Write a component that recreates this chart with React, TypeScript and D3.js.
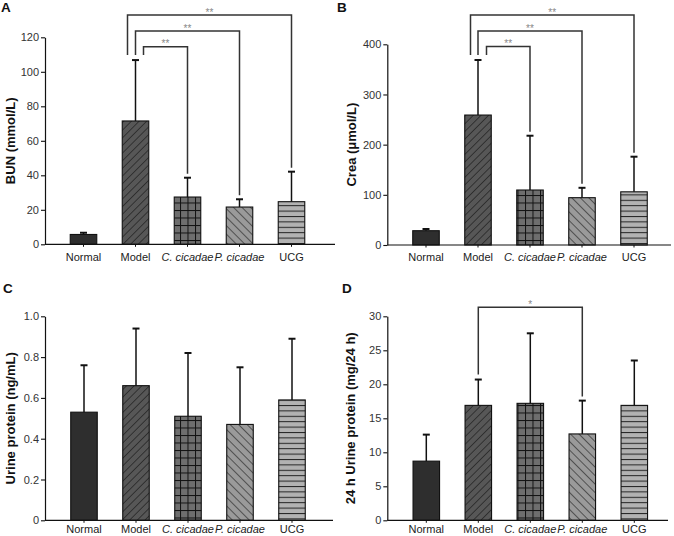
import React, { useEffect, useRef } from 'react';
import * as d3 from 'd3';

const groups = ['Normal', 'Model', 'C. cicadae', 'P. cicadae', 'UCG'];
const italicGroups = ['C. cicadae', 'P. cicadae'];

// mean and SD per group
const bunMean = [5.7, 71.5, 27.4, 21.6, 24.7];
const bunSd = [1.0, 35.3, 11.2, 4.5, 17.4];
const creaMean = [28.5, 259, 109.6, 94.3, 106];
const creaSd = [3.4, 109.7, 108.2, 19.7, 70];
const urineMean = [0.53, 0.66, 0.51, 0.47, 0.59];
const urineSd = [0.23, 0.28, 0.31, 0.28, 0.3];
const urine24Mean = [8.7, 16.9, 17.2, 12.7, 16.9];
const urine24Sd = [3.9, 3.8, 10.3, 4.9, 6.6];

const bunTicks = [0, 20, 40, 60, 80, 100, 120];
const creaTicks = [0, 100, 200, 300, 400];
const urineTicks = [0, 0.2, 0.4, 0.6, 0.8, 1.0];
const urine24Ticks = [0, 5, 10, 15, 20, 25, 30];

const bunSig = [
    { from: 'Model', to: 'UCG', label: '**' },
    { from: 'Model', to: 'P. cicadae', label: '**' },
    { from: 'Model', to: 'C. cicadae', label: '**' },
];
const creaSig = [
    { from: 'Model', to: 'UCG', label: '**' },
    { from: 'Model', to: 'P. cicadae', label: '**' },
    { from: 'Model', to: 'C. cicadae', label: '**' },
];
const urineSig: { from: string; to: string; label: string }[] = [];
const urine24Sig = [{ from: 'Model', to: 'P. cicadae', label: '*' }];

const baseColors = ['#2e2e2e', '#575757', '#6e6e6e', '#9a9a9a', '#b2b2b2'];
const patternIds = [null, 'pat-up', 'pat-grid', 'pat-down', 'pat-horiz'];

const FONT = '"Liberation Sans", Arial, Helvetica, sans-serif';

const panels = [
    {
        letter: 'A', letterX: 1, letterY: 12,
        yLabel: 'BUN (mmol/L)', yLabelX: 14.5,
        means: bunMean, sds: bunSd, ticks: bunTicks, fmt: d3.format('d'),
        axisX: 45, axisRight: 335, y0: 244.3, yTop: 37.3, c0: 83.5,
        xLabelDy: 16.3, sig: bunSig, sigY: [15, 31, 46.7], legOff: [-8, 0, 8],
    },
    {
        letter: 'B', letterX: 337, letterY: 12,
        yLabel: 'Crea (\u03bcmol/L)', yLabelX: 356,
        means: creaMean, sds: creaSd, ticks: creaTicks, fmt: d3.format('d'),
        axisX: 387.3, axisRight: 671, y0: 245, yTop: 44.3, c0: 426,
        xLabelDy: 15.7, sig: creaSig, sigY: [15, 31, 46.5], legOff: [-7.5, 0, 8.5],
    },
    {
        letter: 'C', letterX: 3, letterY: 293,
        yLabel: 'Urine protein (ng/mL)', yLabelX: 14.5,
        means: urineMean, sds: urineSd, ticks: urineTicks,
        fmt: (d: number) => (d === 0 ? '0' : d3.format('.1f')(d)),
        axisX: 45, axisRight: 333, y0: 520.3, yTop: 316.3, c0: 84,
        xLabelDy: 13, sig: urineSig, sigY: [], legOff: [],
    },
    {
        letter: 'D', letterX: 342, letterY: 293,
        yLabel: '24 h Urine protein (mg/24 h)', yLabelX: 355,
        means: urine24Mean, sds: urine24Sd, ticks: urine24Ticks, fmt: d3.format('d'),
        axisX: 387.3, axisRight: 668, y0: 520.3, yTop: 316.3, c0: 426.3,
        xLabelDy: 13, sig: urine24Sig, sigY: [307.3], legOff: [0],
    },
];

const App = () => {
    const ref = useRef<SVGSVGElement>(null);

    useEffect(() => {
        if (!ref.current) return;
        const svg = d3.select(ref.current);
        svg.selectAll('*').remove();

        // Hatch patterns
        const defs = svg.append('defs');
        const up = defs.append('pattern').attr('id', 'pat-up')
            .attr('patternUnits', 'userSpaceOnUse').attr('width', 5.4).attr('height', 5.4)
            .attr('patternTransform', 'rotate(45)');
        up.append('line').attr('x1', 0).attr('y1', 0).attr('x2', 0).attr('y2', 5.4)
            .attr('stroke', '#111').attr('stroke-width', 1.1);

        const down = defs.append('pattern').attr('id', 'pat-down')
            .attr('patternUnits', 'userSpaceOnUse').attr('width', 6).attr('height', 6)
            .attr('patternTransform', 'rotate(-45)');
        down.append('line').attr('x1', 0).attr('y1', 0).attr('x2', 0).attr('y2', 6)
            .attr('stroke', '#111').attr('stroke-width', 1.1);

        const grid = defs.append('pattern').attr('id', 'pat-grid')
            .attr('patternUnits', 'userSpaceOnUse').attr('width', 7.5).attr('height', 7.5);
        grid.append('line').attr('x1', 0.5).attr('y1', 0).attr('x2', 0.5).attr('y2', 7.5)
            .attr('stroke', '#111').attr('stroke-width', 1);
        grid.append('line').attr('x1', 0).attr('y1', 0.5).attr('x2', 7.5).attr('y2', 0.5)
            .attr('stroke', '#111').attr('stroke-width', 1);

        const horiz = defs.append('pattern').attr('id', 'pat-horiz')
            .attr('patternUnits', 'userSpaceOnUse').attr('width', 10).attr('height', 5.4);
        horiz.append('line').attr('x1', 0).attr('y1', 0.5).attr('x2', 10).attr('y2', 0.5)
            .attr('stroke', '#222').attr('stroke-width', 1);

        panels.forEach((p) => {
            const g = svg.append('g').style('font-family', FONT);
            const step = 52;
            const x = d3.scaleBand<string>()
                .domain(groups)
                .range([p.c0 - step / 2, p.c0 + step * (groups.length - 0.5)])
                .paddingInner(0.49)
                .paddingOuter(0.245);
            const dom = [p.ticks[0], p.ticks[p.ticks.length - 1]];
            const y = d3.scaleLinear().domain(dom).range([p.y0, p.yTop]);
            const cx = (k: string) => (x(k) as number) + x.bandwidth() / 2;

            // Panel letter
            g.append('text').attr('x', p.letterX).attr('y', p.letterY)
                .attr('font-size', 13.5).attr('font-weight', 'bold').attr('fill', '#111')
                .text(p.letter);

            // Y axis
            const yAxis = d3.axisLeft(y).tickValues(p.ticks).tickFormat(p.fmt as any)
                .tickSize(4).tickSizeOuter(0).tickPadding(2);
            const ya = g.append('g').attr('transform', `translate(${p.axisX},0)`).call(yAxis);
            ya.selectAll('text').attr('fill', '#333').style('font-size', '11px').style('font-family', FONT);
            ya.selectAll('.domain').attr('stroke', '#111').attr('stroke-width', 1.2);
            ya.selectAll('.tick line').attr('stroke', '#111').attr('stroke-width', 1.1);

            // Y label
            g.append('text')
                .attr('transform', `translate(${p.yLabelX},${(p.y0 + p.yTop) / 2}) rotate(-90)`)
                .attr('text-anchor', 'middle').attr('font-size', 13).attr('font-weight', 'bold')
                .attr('fill', '#111').text(p.yLabel);

            // Bars
            groups.forEach((k, i) => {
                const bx = x(k) as number;
                const top = y(p.means[i]);
                g.append('rect').attr('x', bx).attr('y', top)
                    .attr('width', x.bandwidth()).attr('height', p.y0 - top)
                    .attr('fill', baseColors[i]);
                if (patternIds[i]) {
                    g.append('rect').attr('x', bx).attr('y', top)
                        .attr('width', x.bandwidth()).attr('height', p.y0 - top)
                        .attr('fill', `url(#${patternIds[i]})`);
                }
                g.append('rect').attr('x', bx).attr('y', top)
                    .attr('width', x.bandwidth()).attr('height', p.y0 - top)
                    .attr('fill', 'none').attr('stroke', '#111').attr('stroke-width', 1.1);

                // Error bar (upper only)
                const et = y(p.means[i] + p.sds[i]);
                g.append('line').attr('x1', cx(k)).attr('x2', cx(k))
                    .attr('y1', top).attr('y2', et)
                    .attr('stroke', '#111').attr('stroke-width', 1.5);
                g.append('line').attr('x1', cx(k) - 3.5).attr('x2', cx(k) + 3.5)
                    .attr('y1', et).attr('y2', et)
                    .attr('stroke', '#111').attr('stroke-width', 2);
            });

            // X axis
            g.append('line').attr('x1', p.axisX).attr('x2', p.axisRight)
                .attr('y1', p.y0).attr('y2', p.y0)
                .attr('stroke', '#111').attr('stroke-width', 1.2);
            groups.forEach((k) => {
                g.append('line').attr('x1', cx(k)).attr('x2', cx(k))
                    .attr('y1', p.y0).attr('y2', p.y0 + 2.5)
                    .attr('stroke', '#111').attr('stroke-width', 1);
                g.append('text').attr('x', cx(k)).attr('y', p.y0 + p.xLabelDy)
                    .attr('text-anchor', 'middle').attr('font-size', 11)
                    .attr('font-style', italicGroups.includes(k) ? 'italic' : 'normal')
                    .attr('fill', '#222').text(k);
            });

            // Significance brackets
            p.sig.forEach((s, j) => {
                const fi = groups.indexOf(s.from);
                const ti = groups.indexOf(s.to);
                const lx = cx(s.from) + p.legOff[j];
                const rx = cx(s.to);
                const by = p.sigY[j];
                const ly = y(p.means[fi] + p.sds[fi]) - 5;
                const ry = y(p.means[ti] + p.sds[ti]) - 4;
                g.append('path')
                    .attr('d', `M${lx},${ly}V${by}H${rx}V${ry}`)
                    .attr('fill', 'none').attr('stroke', '#333').attr('stroke-width', 1.5);
                g.append('text').attr('x', (lx + rx) / 2).attr('y', by + 0.5)
                    .attr('text-anchor', 'middle').attr('font-size', 10)
                    .attr('fill', '#888').text(s.label);
            });
        });
    }, []);

    return (
        <svg ref={ref} width={674} height={536}
            style={{ position: 'absolute', left: 0, top: 0, background: '#fff' }} />
    );
};

export default App;
